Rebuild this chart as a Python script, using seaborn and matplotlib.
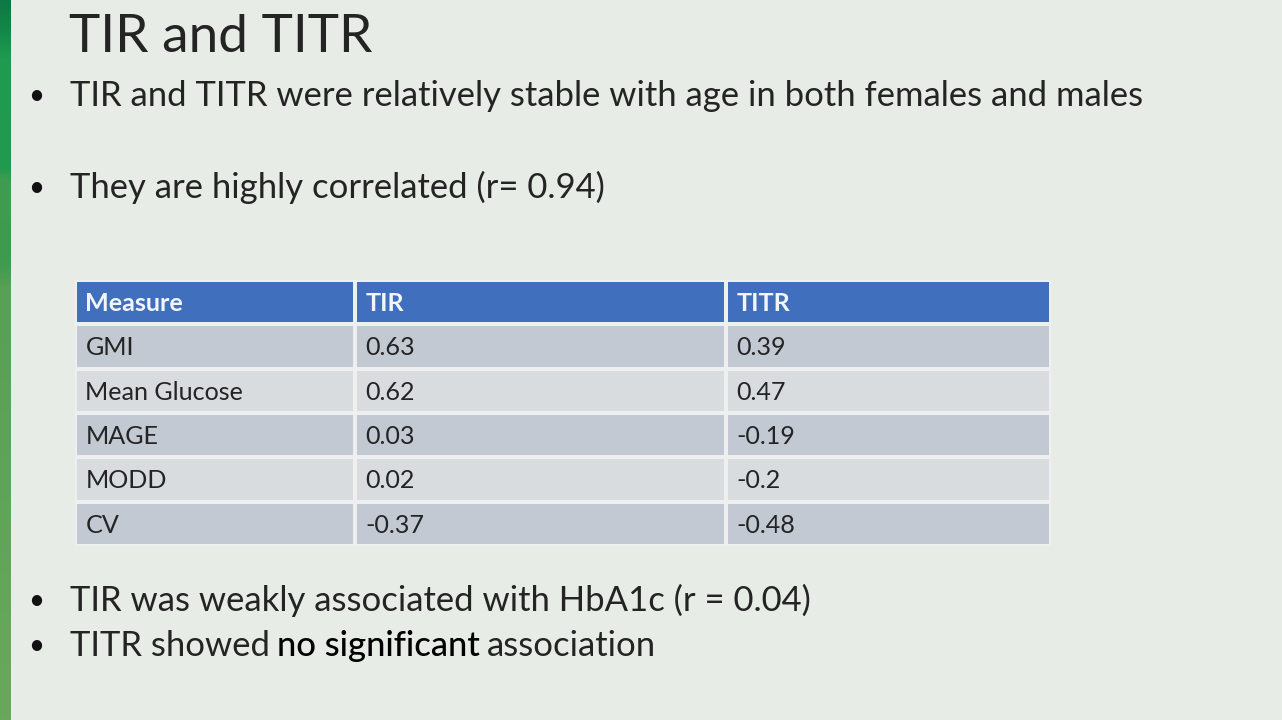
import numpy as np
import matplotlib
matplotlib.use("Agg")
import matplotlib.pyplot as plt
from matplotlib.colors import ListedColormap, LinearSegmentedColormap
import seaborn as sns

# slide text
title = "TIR and TITR"
bullets_top = ["TIR and TITR were relatively stable with age in both females and males",
               "They are highly correlated (r= 0.94)"]
bullet_hba1c = "TIR was weakly associated with HbA1c (r = 0.04)"
bullet_last = ["TITR showed", "no significant", "association"]

# table data
headers = ["Measure", "TIR", "TITR"]
measures = ["GMI", "Mean Glucose", "MAGE", "MODD", "CV"]
tir = [0.63, 0.62, 0.03, 0.02, -0.37]
titr = [0.39, 0.47, -0.19, -0.2, -0.48]

W, H = 1282, 720
BG = "#e8ece6"
TXT = "#242424"
HEAD = "#3f6fbd"
DARK = "#c2c9d2"
LIGHT = "#d9dcde"

sns.set_theme(style="white")
plt.rcParams["font.family"] = ["Lato", "DejaVu Sans"]

fig = plt.figure(figsize=(W / 100, H / 100), dpi=100, facecolor=BG)
bg = fig.add_axes([0, 0, 1, 1])
bg.set_facecolor(BG)

# green strip on the left edge
greens = LinearSegmentedColormap.from_list(
    "strip", [(0, "#0e7944"), (0.04, "#138848"), (0.08, "#1f9c50"), (0.23, "#1f9a4f"),
              (0.25, "#409c4f"), (0.36, "#3d9a4f"), (0.4, "#57a055"), (1, "#69a85c")])
bg.imshow(np.linspace(0, 1, 400).reshape(-1, 1), cmap=greens, aspect="auto",
          extent=[0, 11, H, 0])
bg.set_xlim(0, W)
bg.set_ylim(H, 0)
bg.axis("off")

renderer = fig.canvas.get_renderer()


def fit(t, target):
    w = t.get_window_extent(renderer).width
    t.set_fontsize(t.get_fontsize() * target / w)
    return t.get_fontsize()


t = bg.text(69, 52, title, fontsize=44, color=TXT, va="baseline")
fit(t, 303)

line1 = bg.text(70, 106, bullets_top[0], fontsize=28, color=TXT, va="baseline")
fs = fit(line1, 1072)
bg.text(70, 198, bullets_top[1], fontsize=fs, color=TXT, va="baseline")
bg.text(70, 611, bullet_hba1c, fontsize=fs, color=TXT, va="baseline")

t0 = bg.text(70, 656, bullet_last[0], fontsize=fs, color=TXT, va="baseline")
t1 = bg.annotate(bullet_last[1], xy=(1, 0), xycoords=t0, xytext=(fs * 0.2, 0),
                 textcoords="offset points", va="bottom", ha="left",
                 fontsize=fs, color="#000000", fontweight="medium")
bg.annotate(bullet_last[2], xy=(1, 0), xycoords=t1, xytext=(fs * 0.2, 0),
            textcoords="offset points", va="bottom", ha="left",
            fontsize=fs, color=TXT)

for y in [104, 196, 609, 654]:
    bg.text(36, y, "\u2022", fontsize=fs * 0.8, color="#111111", ha="center", va="baseline")

# table: one heatmap per column so the columns can have their own widths
cols = [(75, 355), (355, 726), (726, 1051)]
top, bottom = 280, 546
columns = [measures, [str(v) for v in tir], [str(v) for v in titr]]
row_style = np.array([0] + [1 + i % 2 for i in range(len(measures))]).reshape(-1, 1)
cmap = ListedColormap([HEAD, DARK, LIGHT])

probe = bg.text(0, -100, "Mean Glucose", fontsize=16)
cell_fs = fit(probe, 159)
probe.remove()

for (x0, x1), head, vals in zip(cols, headers, columns):
    ax = fig.add_axes([x0 / W, 1 - bottom / H, (x1 - x0) / W, (bottom - top) / H])
    sns.heatmap(row_style, cmap=cmap, vmin=-0.5, vmax=2.5, cbar=False,
                linewidths=1.5, linecolor="#eef0ef",
                xticklabels=False, yticklabels=False, ax=ax)
    labels = [head] + vals
    for i, lab in enumerate(labels):
        ax.annotate(lab, xy=(0, i + 0.5), xycoords=("axes fraction", "data"),
                    xytext=(7.5, -1), textcoords="offset points",
                    ha="left", va="center",
                    fontsize=cell_fs,
                    fontweight="bold" if i == 0 else "normal",
                    color="#f2f5fb" if i == 0 else TXT)

fig.savefig("out.png", dpi=100, facecolor=BG)
